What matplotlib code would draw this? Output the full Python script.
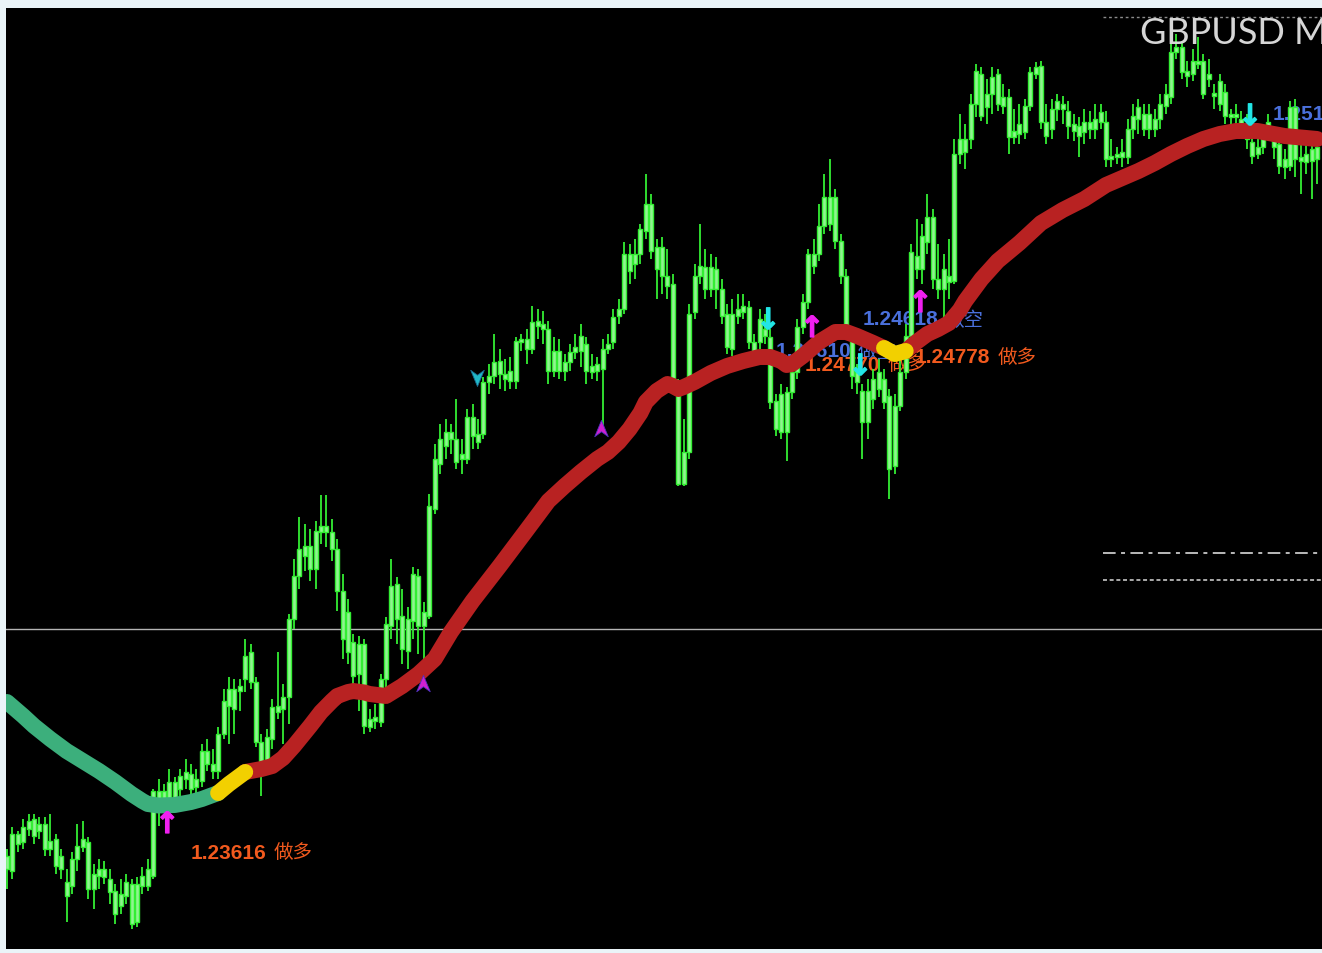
import numpy as np
import matplotlib
matplotlib.use("Agg")
import matplotlib.pyplot as plt
from matplotlib.path import Path
import matplotlib.patheffects as pe

# ---------------- data ----------------
opens = [
    1.24260, 1.24256, 1.24330, 1.24314, 1.24340, 1.24360, 1.24336, 1.24350, 1.24300, 1.24320,
    1.24286, 1.24234, 1.24226, 1.24280, 1.24304, 1.24314, 1.24220, 1.24246, 1.24260, 1.24240,
    1.24216, 1.24186, 1.24206, 1.24230, 1.24154, 1.24226, 1.24226, 1.24246, 1.24416, 1.24394,
    1.24400, 1.24434, 1.24420, 1.24440, 1.24450, 1.24424, 1.24436, 1.24496, 1.24470, 1.24456,
    1.24530, 1.24586, 1.24620, 1.24616, 1.24640, 1.24694, 1.24634, 1.24514, 1.24474, 1.24520,
    1.24586, 1.24580, 1.24604, 1.24760, 1.24846, 1.24906, 1.24906, 1.24860, 1.24934, 1.24946,
    1.24934, 1.24900, 1.24816, 1.24774, 1.24714, 1.24650, 1.24710, 1.24544, 1.24556, 1.24554,
    1.24640, 1.24746, 1.24830, 1.24766, 1.24696, 1.24756, 1.24846, 1.24746, 1.24766, 1.24980,
    1.25070, 1.25134, 1.25120, 1.25120, 1.25090, 1.25080, 1.25164, 1.25114, 1.25130, 1.25234,
    1.25246, 1.25276, 1.25250, 1.25236, 1.25236, 1.25314, 1.25320, 1.25300, 1.25346, 1.25350,
    1.25340, 1.25256, 1.25296, 1.25256, 1.25274, 1.25294, 1.25296, 1.25310, 1.25266, 1.25256,
    1.25260, 1.25300, 1.25314, 1.25366, 1.25380, 1.25490, 1.25470, 1.25490, 1.25536, 1.25590,
    1.25504, 1.25504, 1.25446, 1.25430, 1.25234, 1.25030, 1.25094, 1.25374, 1.25446, 1.25464,
    1.25420, 1.25460, 1.25420, 1.25370, 1.25300, 1.25366, 1.25374, 1.25384, 1.25314, 1.25314,
    1.25340, 1.25324, 1.25196, 1.25134, 1.25214, 1.25214, 1.25254, 1.25344, 1.25394, 1.25490,
    1.25490, 1.25546, 1.25604, 1.25604, 1.25516, 1.25446, 1.25320, 1.25254, 1.25216, 1.25154,
    1.25200, 1.25220, 1.25240, 1.25206, 1.25066, 1.25186, 1.25254, 1.25326, 1.25486, 1.25460,
    1.25514, 1.25564, 1.25440, 1.25420, 1.25446, 1.25436, 1.25690, 1.25720, 1.25720, 1.25790,
    1.25850, 1.25784, 1.25810, 1.25850, 1.25804, 1.25804, 1.25724, 1.25730, 1.25734, 1.25786,
    1.25850, 1.25866, 1.25754, 1.25740, 1.25780, 1.25790, 1.25776, 1.25750, 1.25746, 1.25734,
    1.25754, 1.25740, 1.25754, 1.25754, 1.25686, 1.25684, 1.25694, 1.25684, 1.25740, 1.25760,
    1.25770, 1.25740, 1.25760, 1.25760, 1.25786, 1.25804, 1.25894, 1.25904, 1.25856, 1.25850,
    1.25870, 1.25876, 1.25840, 1.25810, 1.25836, 1.25814, 1.25766, 1.25764, 1.25760, 1.25740,
    1.25714, 1.25690, 1.25704, 1.25740, 1.25720, 1.25710, 1.25680, 1.25666, 1.25784, 1.25684,
    1.25674, 1.25676, 1.25680,
]
highs = [
    1.24300, 1.24344, 1.24336, 1.24360, 1.24370, 1.24370, 1.24364, 1.24364, 1.24370, 1.24330,
    1.24300, 1.24260, 1.24294, 1.24350, 1.24356, 1.24324, 1.24270, 1.24280, 1.24276, 1.24260,
    1.24230, 1.24240, 1.24250, 1.24240, 1.24244, 1.24264, 1.24280, 1.24420, 1.24440, 1.24430,
    1.24460, 1.24444, 1.24460, 1.24480, 1.24470, 1.24460, 1.24510, 1.24520, 1.24500, 1.24544,
    1.24620, 1.24644, 1.24640, 1.24640, 1.24720, 1.24710, 1.24644, 1.24530, 1.24540, 1.24600,
    1.24694, 1.24630, 1.24770, 1.24880, 1.24964, 1.24950, 1.24940, 1.24956, 1.25008, 1.25008,
    1.24960, 1.24920, 1.24850, 1.24800, 1.24730, 1.24726, 1.24720, 1.24580, 1.24590, 1.24650,
    1.24764, 1.24880, 1.24844, 1.24820, 1.24784, 1.24864, 1.24860, 1.24794, 1.25010, 1.25110,
    1.25150, 1.25160, 1.25150, 1.25200, 1.25120, 1.25180, 1.25190, 1.25160, 1.25244, 1.25270,
    1.25330, 1.25300, 1.25280, 1.25284, 1.25324, 1.25330, 1.25340, 1.25386, 1.25380, 1.25376,
    1.25356, 1.25324, 1.25320, 1.25290, 1.25310, 1.25330, 1.25350, 1.25324, 1.25290, 1.25284,
    1.25320, 1.25330, 1.25380, 1.25400, 1.25514, 1.25510, 1.25520, 1.25550, 1.25650, 1.25610,
    1.25520, 1.25524, 1.25500, 1.25450, 1.25240, 1.25160, 1.25390, 1.25470, 1.25550, 1.25500,
    1.25490, 1.25484, 1.25440, 1.25390, 1.25400, 1.25410, 1.25410, 1.25396, 1.25330, 1.25380,
    1.25370, 1.25340, 1.25210, 1.25230, 1.25224, 1.25270, 1.25360, 1.25410, 1.25500, 1.25520,
    1.25590, 1.25650, 1.25680, 1.25620, 1.25530, 1.25460, 1.25340, 1.25270, 1.25230, 1.25240,
    1.25260, 1.25280, 1.25260, 1.25220, 1.25210, 1.25276, 1.25350, 1.25510, 1.25560, 1.25550,
    1.25610, 1.25580, 1.25510, 1.25490, 1.25520, 1.25720, 1.25770, 1.25750, 1.25810, 1.25870,
    1.25864, 1.25840, 1.25864, 1.25860, 1.25830, 1.25820, 1.25780, 1.25790, 1.25800, 1.25864,
    1.25874, 1.25876, 1.25790, 1.25800, 1.25810, 1.25806, 1.25796, 1.25770, 1.25764, 1.25780,
    1.25776, 1.25790, 1.25790, 1.25776, 1.25720, 1.25704, 1.25720, 1.25760, 1.25790, 1.25800,
    1.25790, 1.25790, 1.25780, 1.25810, 1.25830, 1.25910, 1.25930, 1.25916, 1.25876, 1.25900,
    1.25924, 1.25890, 1.25880, 1.25830, 1.25850, 1.25830, 1.25780, 1.25790, 1.25776, 1.25770,
    1.25730, 1.25730, 1.25740, 1.25770, 1.25740, 1.25724, 1.25700, 1.25796, 1.25800, 1.25720,
    1.25720, 1.25720, 1.25730,
]
lows = [
    1.24220, 1.24240, 1.24294, 1.24300, 1.24326, 1.24310, 1.24320, 1.24286, 1.24286, 1.24250,
    1.24240, 1.24154, 1.24210, 1.24256, 1.24294, 1.24200, 1.24180, 1.24220, 1.24230, 1.24190,
    1.24150, 1.24170, 1.24190, 1.24140, 1.24144, 1.24210, 1.24216, 1.24240, 1.24346, 1.24380,
    1.24374, 1.24376, 1.24406, 1.24420, 1.24410, 1.24410, 1.24424, 1.24456, 1.24440, 1.24440,
    1.24520, 1.24510, 1.24530, 1.24576, 1.24614, 1.24620, 1.24504, 1.24406, 1.24450, 1.24500,
    1.24560, 1.24510, 1.24550, 1.24740, 1.24820, 1.24856, 1.24836, 1.24820, 1.24910, 1.24904,
    1.24876, 1.24776, 1.24680, 1.24670, 1.24620, 1.24576, 1.24530, 1.24534, 1.24540, 1.24544,
    1.24620, 1.24720, 1.24710, 1.24670, 1.24660, 1.24720, 1.24690, 1.24666, 1.24760, 1.24970,
    1.25050, 1.25080, 1.25090, 1.25060, 1.25050, 1.25070, 1.25100, 1.25100, 1.25120, 1.25210,
    1.25230, 1.25220, 1.25216, 1.25220, 1.25220, 1.25296, 1.25270, 1.25290, 1.25320, 1.25310,
    1.25230, 1.25244, 1.25240, 1.25236, 1.25256, 1.25280, 1.25264, 1.25230, 1.25240, 1.25236,
    1.25140, 1.25290, 1.25300, 1.25350, 1.25370, 1.25430, 1.25440, 1.25470, 1.25520, 1.25480,
    1.25400, 1.25410, 1.25400, 1.25220, 1.25026, 1.25026, 1.25080, 1.25360, 1.25430, 1.25400,
    1.25404, 1.25380, 1.25350, 1.25290, 1.25286, 1.25350, 1.25360, 1.25300, 1.25280, 1.25300,
    1.25310, 1.25180, 1.25126, 1.25120, 1.25076, 1.25200, 1.25240, 1.25330, 1.25380, 1.25450,
    1.25476, 1.25530, 1.25536, 1.25500, 1.25430, 1.25330, 1.25220, 1.25210, 1.25080, 1.25120,
    1.25180, 1.25204, 1.25180, 1.25000, 1.25050, 1.25176, 1.25240, 1.25310, 1.25440, 1.25430,
    1.25490, 1.25420, 1.25400, 1.25360, 1.25400, 1.25430, 1.25670, 1.25660, 1.25700, 1.25764,
    1.25756, 1.25750, 1.25770, 1.25776, 1.25770, 1.25690, 1.25710, 1.25710, 1.25720, 1.25776,
    1.25840, 1.25740, 1.25710, 1.25720, 1.25756, 1.25750, 1.25720, 1.25716, 1.25684, 1.25710,
    1.25720, 1.25720, 1.25740, 1.25664, 1.25664, 1.25670, 1.25664, 1.25670, 1.25720, 1.25730,
    1.25726, 1.25720, 1.25724, 1.25740, 1.25770, 1.25790, 1.25880, 1.25840, 1.25824, 1.25836,
    1.25860, 1.25800, 1.25824, 1.25780, 1.25776, 1.25750, 1.25740, 1.25744, 1.25730, 1.25700,
    1.25670, 1.25680, 1.25690, 1.25720, 1.25680, 1.25650, 1.25640, 1.25656, 1.25644, 1.25610,
    1.25650, 1.25600, 1.25630,
]
closes = [
    1.24286, 1.24330, 1.24310, 1.24344, 1.24356, 1.24326, 1.24350, 1.24300, 1.24316, 1.24266,
    1.24260, 1.24206, 1.24280, 1.24306, 1.24320, 1.24220, 1.24250, 1.24260, 1.24244, 1.24214,
    1.24170, 1.24210, 1.24234, 1.24150, 1.24230, 1.24246, 1.24260, 1.24416, 1.24400, 1.24416,
    1.24434, 1.24386, 1.24446, 1.24454, 1.24420, 1.24440, 1.24496, 1.24470, 1.24456, 1.24530,
    1.24596, 1.24620, 1.24580, 1.24626, 1.24686, 1.24634, 1.24514, 1.24474, 1.24524, 1.24584,
    1.24574, 1.24604, 1.24760, 1.24846, 1.24900, 1.24886, 1.24860, 1.24936, 1.24946, 1.24934,
    1.24900, 1.24816, 1.24720, 1.24694, 1.24646, 1.24710, 1.24546, 1.24560, 1.24564, 1.24640,
    1.24750, 1.24826, 1.24760, 1.24700, 1.24760, 1.24850, 1.24746, 1.24774, 1.24986, 1.25080,
    1.25120, 1.25106, 1.25134, 1.25074, 1.25080, 1.25164, 1.25126, 1.25130, 1.25234, 1.25246,
    1.25274, 1.25250, 1.25240, 1.25256, 1.25316, 1.25320, 1.25300, 1.25354, 1.25356, 1.25340,
    1.25256, 1.25296, 1.25256, 1.25274, 1.25294, 1.25304, 1.25326, 1.25256, 1.25254, 1.25270,
    1.25300, 1.25310, 1.25364, 1.25380, 1.25490, 1.25456, 1.25490, 1.25540, 1.25590, 1.25496,
    1.25460, 1.25446, 1.25426, 1.25234, 1.25030, 1.25094, 1.25370, 1.25446, 1.25466, 1.25420,
    1.25464, 1.25420, 1.25366, 1.25304, 1.25370, 1.25380, 1.25386, 1.25314, 1.25296, 1.25360,
    1.25326, 1.25194, 1.25140, 1.25210, 1.25134, 1.25254, 1.25344, 1.25394, 1.25490, 1.25466,
    1.25546, 1.25604, 1.25550, 1.25516, 1.25446, 1.25346, 1.25246, 1.25234, 1.25154, 1.25216,
    1.25240, 1.25254, 1.25194, 1.25060, 1.25186, 1.25254, 1.25326, 1.25494, 1.25460, 1.25526,
    1.25564, 1.25440, 1.25420, 1.25460, 1.25434, 1.25690, 1.25720, 1.25694, 1.25790, 1.25856,
    1.25766, 1.25810, 1.25844, 1.25790, 1.25786, 1.25724, 1.25736, 1.25750, 1.25786, 1.25854,
    1.25864, 1.25754, 1.25726, 1.25780, 1.25796, 1.25780, 1.25746, 1.25736, 1.25726, 1.25754,
    1.25740, 1.25760, 1.25774, 1.25680, 1.25680, 1.25690, 1.25684, 1.25740, 1.25766, 1.25784,
    1.25740, 1.25770, 1.25740, 1.25790, 1.25810, 1.25894, 1.25904, 1.25854, 1.25846, 1.25876,
    1.25876, 1.25810, 1.25850, 1.25806, 1.25790, 1.25766, 1.25764, 1.25770, 1.25750, 1.25720,
    1.25686, 1.25704, 1.25720, 1.25754, 1.25704, 1.25666, 1.25664, 1.25784, 1.25680, 1.25676,
    1.25690, 1.25700, 1.25704,
]

# moving-average line, read at candle indices, split by colour state
ma_teal_idx = [0, 3, 5, 8, 11, 14, 17, 20, 23, 25, 26, 28, 31, 34, 36, 39]
ma_teal_val = [1.24594, 1.24566, 1.24546, 1.24520, 1.24496, 1.24476, 1.24456, 1.24434, 1.24410,
               1.24396, 1.24390, 1.24387, 1.24388, 1.24394, 1.24400, 1.24412]
ma_yel1_idx = [39, 41, 44]
ma_yel1_val = [1.24412, 1.24430, 1.24454]
ma_red1_idx = [44, 47, 49, 51, 53, 56, 58, 60, 61, 63, 64, 66, 67, 70, 73, 76, 79, 82, 86, 91,
               96, 100, 103, 106, 109, 111, 113, 115, 117, 118, 120, 122, 123, 124, 125, 127, 130,
               133, 136, 139, 141, 143, 144, 145, 147, 150, 153, 155, 157, 160, 162]
ma_red1_val = [1.24454, 1.24460, 1.24466, 1.24482, 1.24506, 1.24546, 1.24574, 1.24596, 1.24606,
               1.24614, 1.24616, 1.24613, 1.24610, 1.24606, 1.24626, 1.24650, 1.24680, 1.24734,
               1.24796, 1.24866, 1.24938, 1.24996, 1.25026, 1.25054, 1.25080, 1.25094, 1.25114,
               1.25140, 1.25172, 1.25194, 1.25216, 1.25230, 1.25226, 1.25220, 1.25224, 1.25234,
               1.25252, 1.25266, 1.25276, 1.25284, 1.25284, 1.25276, 1.25268, 1.25270, 1.25286,
               1.25314, 1.25334, 1.25334, 1.25326, 1.25312, 1.25302]
ma_yel2_idx = [162, 164, 166]
ma_yel2_val = [1.25302, 1.25290, 1.25296]
ma_red2_idx = [166, 168, 170, 172, 174, 176, 177, 180, 183, 187, 191, 195, 199, 203, 206, 209,
               212, 215, 218, 221, 224, 227, 231, 236, 242]
ma_red2_val = [1.25296, 1.25314, 1.25330, 1.25340, 1.25352, 1.25378, 1.25396, 1.25440, 1.25476,
               1.25512, 1.25552, 1.25578, 1.25600, 1.25628, 1.25642, 1.25656, 1.25672, 1.25690,
               1.25706, 1.25720, 1.25730, 1.25736, 1.25736, 1.25726, 1.25720]

# signal labels
label_idx = [34.0, 158.0, 141.9, 147.4, 167.7, 233.7]
label_price = [1.24294, 1.25360, 1.25296, 1.25270, 1.25284, 1.25770]
label_num = ["1.23616", "1.24618", "1.24610", "1.24770", "1.24778", "1.25162"]
label_cn = ["做多", "做空", "做空", "做多", "做多", "做空"]
label_kind = ["long", "short", "short", "long", "long", "short"]

up_arrow_idx = [29.6, 148.7, 168.7]
up_arrow_price = [1.24348, 1.25340, 1.25390]
down_arrow_idx = [140.6, 157.6, 229.6]
down_arrow_price = [1.25356, 1.25264, 1.25764]

chev_idx = [86.8, 109.7, 76.9]
chev_price = [1.25244, 1.25140, 1.24630]
chev_dir = ["down", "up", "up"]

bid_line = 1.24740
right_levels = [1.25964, 1.24892, 1.24838]
right_start = 202.5

# ---------------- figure ----------------
W, H = 1322, 954
fig = plt.figure(figsize=(W / 100, H / 100), dpi=100, facecolor="#eaf4f8")
ax = fig.add_axes([6 / W, 4 / H, 1316 / W, 941 / H])
ax.set_facecolor("black")
for s in ax.spines.values():
    s.set_visible(False)
ax.set_xticks([])
ax.set_yticks([])
ax.set_xlim(-0.185, 242.9)
ax.set_ylim(1.24100, 1.25982)

# horizontal lines
ax.axhline(bid_line, color="#b4b4b4", lw=1.0, zorder=1)
ax.hlines(right_levels[0], right_start, 243, colors="#8c8c8c", linestyles=(0, (2.0, 2.0)), lw=1.0, zorder=1)
ax.hlines(right_levels[1], right_start, 243, colors="#c8c8c8", linestyles=(0, (7.0, 3.0, 2.2, 3.0)), lw=1.3, zorder=1)
ax.hlines(right_levels[2], right_start, 243, colors="#b8b8b8", linestyles=(0, (2.2, 1.5)), lw=1.3, zorder=1)

# labels (behind candles)
col_long = "#f25a1e"
col_short = "#4a70dc"
for i, p, num, cn, k in zip(label_idx, label_price, label_num, label_cn, label_kind):
    col = col_long if k == "long" else col_short
    t1 = ax.text(i, p, num, color=col, fontsize=15, fontweight="bold",
                 family=["Liberation Sans", "DejaVu Sans"], ha="left", va="center", zorder=2)
    ax.annotate(cn, xy=(1, 0.5), xycoords=t1, xytext=(5, 0), textcoords="offset points",
                color=col, fontsize=14, family=["Noto Sans CJK SC", "DejaVu Sans"],
                ha="left", va="center", zorder=2, annotation_clip=False)

# candles
x = np.arange(len(opens))
o = np.array(opens)
c = np.array(closes)
h = np.array(highs)
l = np.array(lows)
ax.vlines(x, l, h, color="#33ee33", lw=1.3, zorder=3)
bottom = np.minimum(o, c)
height = np.maximum(np.abs(c - o), 0.00005)
ax.bar(x, height, bottom=bottom, width=0.74, color="#90f590", edgecolor="#33ee33",
       linewidth=1.0, zorder=4)

# MA line
lw_ma = 11.5
for idx, val, col in [
    (ma_teal_idx, ma_teal_val, "#3caf7c"),
    (ma_red1_idx, ma_red1_val, "#b82222"),
    (ma_red2_idx, ma_red2_val, "#b82222"),
    (ma_yel1_idx, ma_yel1_val, "#f2d000"),
    (ma_yel2_idx, ma_yel2_val, "#f2d000"),
]:
    ax.plot(idx, val, color=col, lw=lw_ma, solid_capstyle="round", solid_joinstyle="round", zorder=6)

# arrows
for i, p in zip(up_arrow_idx, up_arrow_price):
    ax.text(i, p, "↑", color="#f020f0", fontsize=21, fontweight="bold", family="DejaVu Sans",
            ha="center", va="center", zorder=7,
            path_effects=[pe.withStroke(linewidth=0.9, foreground="#f020f0")])
for i, p in zip(down_arrow_idx, down_arrow_price):
    ax.text(i, p, "↓", color="#22e6e6", fontsize=21, fontweight="bold", family="DejaVu Sans",
            ha="center", va="center", zorder=7,
            path_effects=[pe.withStroke(linewidth=0.9, foreground="#22e6e6")])

# small chevron markers
up_chev = Path([(0, 1), (0.75, -0.8), (0, -0.25), (-0.75, -0.8), (0, 1)],
               [Path.MOVETO, Path.LINETO, Path.LINETO, Path.LINETO, Path.CLOSEPOLY])
down_chev = Path([(0, -1), (0.75, 0.8), (0, 0.25), (-0.75, 0.8), (0, -1)],
                 [Path.MOVETO, Path.LINETO, Path.LINETO, Path.LINETO, Path.CLOSEPOLY])
for i, p, d in zip(chev_idx, chev_price, chev_dir):
    if d == "down":
        ax.plot([i], [p], marker=down_chev, markersize=13, color="#20b8c8",
                markeredgecolor="#1a6a90", markeredgewidth=0.6, linestyle="none", zorder=7)
    else:
        ax.plot([i], [p], marker=up_chev, markersize=13, color="#d020d0",
                markeredgecolor="#5030c0", markeredgewidth=0.6, linestyle="none", zorder=7)

# symbol title (clipped at the right edge)
fig.text(1140 / W, 1 - 33 / H, "GBPUSD M15", color="#d6d6d6", fontsize=26,
         family=["Lato", "DejaVu Sans"], ha="left", va="center", zorder=10)

fig.savefig("out.png", dpi=100, facecolor=fig.get_facecolor())
